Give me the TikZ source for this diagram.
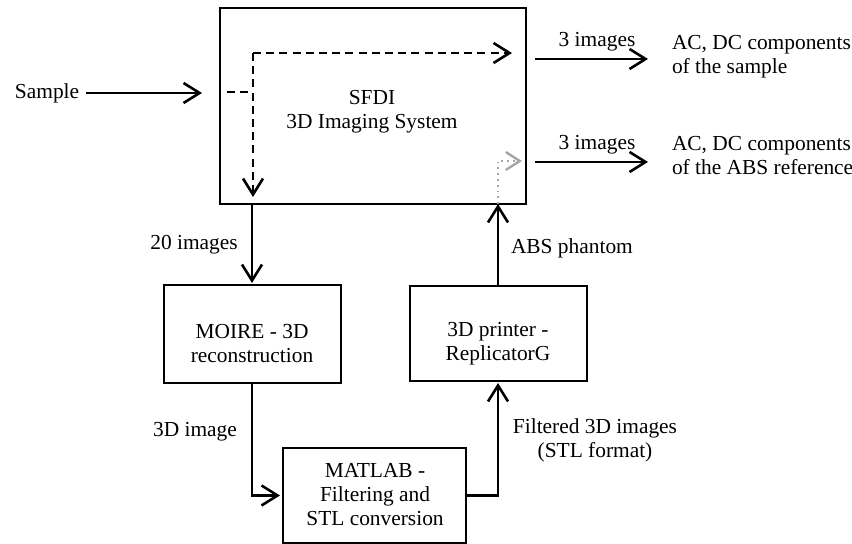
\documentclass[tikz,border=0pt]{standalone}
\usepackage{fontspec}
\setmainfont{Liberation Serif}
\usetikzlibrary{arrows.meta}
\begin{document}
\begin{tikzpicture}[x=0.5pt,y=-0.5pt,
  every node/.style={font=\fontsize{10.7}{12}\selectfont, inner sep=0pt, outer sep=0pt},
  txt/.style={align=center},
  box/.style={draw, line width=1pt},
  tip/.style={-{Straight Barb[length=8pt,width=10pt,line width=1.3pt]}},
  conn/.style={line width=1.35pt, tip},
  dline/.style={line width=1.25pt, dash pattern=on 4pt off 2.6pt},
  dconn/.style={dline, tip},
  gconn/.style={gray!70, line width=0.9pt, dotted, -{Straight Barb[length=7pt,width=9pt,line width=1.2pt]}}
]
\useasboundingbox (0,0) rectangle (852,544);

% boxes
\node[box, minimum width=153pt, minimum height=98pt] (sfdi) at (373,106) {};
\node[box, minimum width=88.5pt, minimum height=49pt] (moire) at (252,334) {};
\node[box, minimum width=88.5pt, minimum height=47.5pt] (printer) at (498,333.5) {};
\node[box, minimum width=91.5pt, minimum height=47.5pt] (matlab) at (374.5,495.5) {};

% box texts
\node[txt] (sfditext) at (372,112) {SFDI\\3D Imaging System};
\node[txt] (moiretext) at (252,344) {MOIRE - 3D\\reconstruction};
\node[txt] (printertext) at (498,344) {3D printer -\\ReplicatorG};
\node[txt] (matlabtext) at (375,495) {MATLAB -\\Filtering and\\STL conversion};

% outside texts
\node[anchor=west] (sample) at (15,93) {Sample};
\node[anchor=west, align=left] (outA) at (672,56.5) {AC, DC components\\of the sample};
\node[anchor=west, align=left] (outB) at (672,156) {AC, DC components\\of the ABS reference};
\node (imgA) at (597,42) {3 images};
\node (imgB) at (597,145) {3 images};
\node (twenty) at (194,245) {20 images};
\node (threed) at (195,432) {3D image};
\node[anchor=west] (abs) at (511,248) {ABS phantom};
\node[txt] (filtered) at (595,440) {Filtered 3D images\\(STL format)};

% coordinates
\coordinate (d0) at (227,92);
\coordinate (d1) at (253,92);
\coordinate (d2) at (253,53);
\coordinate (d3) at (512,53);
\coordinate (d4) at (253,197);
\coordinate (g1) at (498,161);
\coordinate (g2) at (522,161);
\coordinate (oAs) at (535,59);
\coordinate (oAe) at (648,59);
\coordinate (oBs) at (535,162);
\coordinate (oBe) at (648,162);

% connectors
\draw[conn, shorten <=3.5pt, shorten >=9pt] (sample.east) -- (sample.east -| sfdi.west);
\draw[dline] (d0) -- (d1);
\draw[dconn] (d2) -- (d3);
\draw[dconn] (d2) -- (d4);
\draw[gconn] (printer.north |- sfdi.south) -- (g1) -- (g2);
\draw[conn] (oAs) -- (oAe);
\draw[conn] (oBs) -- (oBe);
\draw[conn, shorten >=1pt] (moire.north |- sfdi.south) -- (moire.north);
\draw[conn, shorten >=1.5pt] (moire.south) |- (matlab.west);
\draw[conn, shorten >=1pt] (matlab.east) -| (printer.south);
\draw[conn] (printer.north) -- (printer.north |- sfdi.south);
\end{tikzpicture}
\end{document}
